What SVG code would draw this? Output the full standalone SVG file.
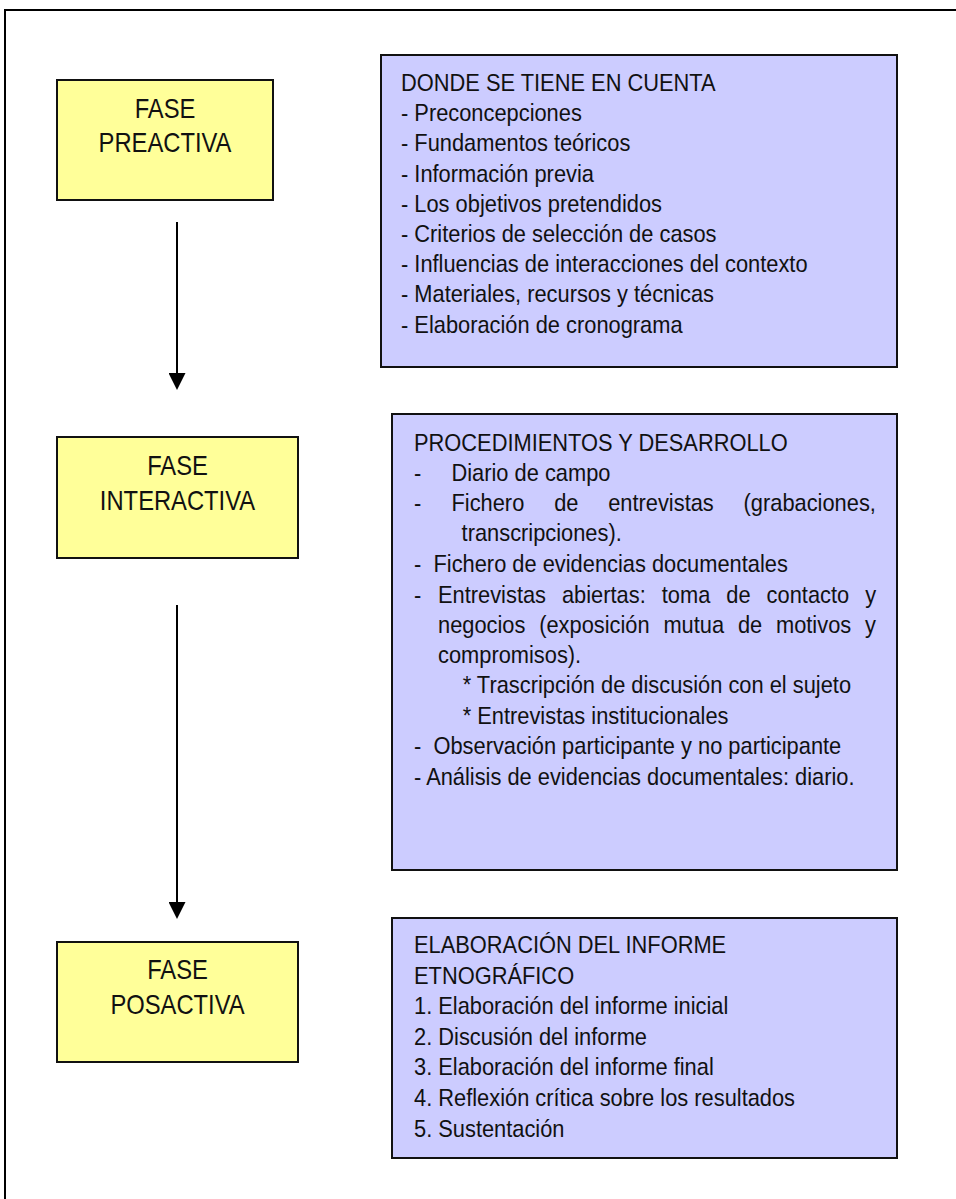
<svg xmlns="http://www.w3.org/2000/svg" width="956" height="1199" viewBox="0 0 956 1199">
<style>
.frame{fill:none;stroke:#000;stroke-width:2}
.ybox{fill:#FFFF99;stroke:#111;stroke-width:2}
.bbox{fill:#CCCCFF;stroke:#111;stroke-width:2}
.yt{font-family:"Liberation Sans",Arial,sans-serif;font-size:27px;fill:#111;text-anchor:middle}
.bt{font-family:"Liberation Sans",Arial,sans-serif;font-size:24px;fill:#111}
.conn{stroke:#000;stroke-width:2;fill:none}
</style>
<defs>
<marker id="ah" markerUnits="userSpaceOnUse" markerWidth="17" markerHeight="17" refX="0" refY="8" orient="auto" viewBox="0 0 16 16">
<path d="M0,0 L16,8 L0,16 Z" fill="#000"/>
</marker>
</defs>
<rect width="956" height="1199" fill="#fff"/>
<path class="frame" d="M5,1199 V10 H956"/>

<g id="connectors">
<line class="conn" x1="177" y1="222" x2="177" y2="373" marker-end="url(#ah)"/>
<line class="conn" x1="177" y1="605" x2="177" y2="902" marker-end="url(#ah)"/>
</g>

<g id="fase-preactiva">
<rect class="ybox" x="57" y="80" width="216" height="120"/>
<text class="yt" transform="translate(165 118.3) scale(0.88 1)">FASE</text>
<text class="yt" transform="translate(165 151.7) scale(0.88 1)">PREACTIVA</text>
</g>

<g id="fase-interactiva">
<rect class="ybox" x="57" y="437" width="241" height="121"/>
<text class="yt" transform="translate(177.5 475) scale(0.88 1)">FASE</text>
<text class="yt" transform="translate(177.5 510) scale(0.88 1)">INTERACTIVA</text>
</g>

<g id="fase-posactiva">
<rect class="ybox" x="57" y="942" width="241" height="120"/>
<text class="yt" transform="translate(177.5 979) scale(0.88 1)">FASE</text>
<text class="yt" transform="translate(177.5 1014) scale(0.88 1)">POSACTIVA</text>
</g>

<g id="donde-se-tiene">
<rect class="bbox" x="381" y="55" width="516" height="312"/>
<text class="bt" transform="translate(401 90.7) scale(0.91 1)">DONDE SE TIENE EN CUENTA</text>
<text class="bt" transform="translate(401 121) scale(0.91 1)">- Preconcepciones</text>
<text class="bt" transform="translate(401 151) scale(0.91 1)">- Fundamentos teóricos</text>
<text class="bt" transform="translate(401 181.7) scale(0.91 1)">- Información previa</text>
<text class="bt" transform="translate(401 211.7) scale(0.91 1)">- Los objetivos pretendidos</text>
<text class="bt" transform="translate(401 241.7) scale(0.91 1)">- Criterios de selección de casos</text>
<text class="bt" transform="translate(401 272.3) scale(0.91 1)">- Influencias de interacciones del contexto</text>
<text class="bt" transform="translate(401 302.3) scale(0.91 1)">- Materiales, recursos y técnicas</text>
<text class="bt" transform="translate(401 332.5) scale(0.91 1)">- Elaboración de cronograma</text>
</g>

<g id="procedimientos">
<rect class="bbox" x="392" y="414" width="505" height="456"/>
<text class="bt" transform="translate(414 450.7) scale(0.91 1)">PROCEDIMIENTOS Y DESARROLLO</text>
<text class="bt" transform="translate(414 481) scale(0.91 1)"><tspan x="0">-</tspan><tspan x="41.2">Diario de campo</tspan></text>
<text class="bt" transform="translate(414 511) scale(0.91 1)"><tspan x="0">-</tspan><tspan x="41.2">Fichero</tspan><tspan x="154">de</tspan><tspan x="213.4">entrevistas</tspan><tspan x="362.2">(grabaciones,</tspan></text>
<text class="bt" transform="translate(461.6 541) scale(0.91 1)">transcripciones).</text>
<text class="bt" transform="translate(414 571.7) scale(0.91 1)"><tspan x="0">-</tspan><tspan x="21.4">Fichero de evidencias documentales</tspan></text>
<text class="bt" transform="translate(414 602.7) scale(0.91 1)"><tspan x="0">-</tspan><tspan x="26.4">Entrevistas</tspan><tspan x="162.6">abiertas:</tspan><tspan x="272.3">toma</tspan><tspan x="343.2">de</tspan><tspan x="387.5">contacto</tspan><tspan x="495.8">y</tspan></text>
<text class="bt" transform="translate(438 632.7) scale(0.91 1)"><tspan x="0">negocios</tspan><tspan x="111.2">(exposición</tspan><tspan x="247.7">mutua</tspan><tspan x="329.6">de</tspan><tspan x="371.4">motivos</tspan><tspan x="469.2">y</tspan></text>
<text class="bt" transform="translate(438 662.7) scale(0.91 1)">compromisos).</text>
<text class="bt" transform="translate(462.7 693.3) scale(0.91 1)">* Trascripción de discusión con el sujeto</text>
<text class="bt" transform="translate(462.7 724) scale(0.91 1)">* Entrevistas institucionales</text>
<text class="bt" transform="translate(414 754.3) scale(0.91 1)"><tspan x="0">-</tspan><tspan x="21.4">Observación participante y no participante</tspan></text>
<text class="bt" transform="translate(414 785) scale(0.91 1)">- Análisis de evidencias documentales: diario.</text>
</g>

<g id="elaboracion-informe">
<rect class="bbox" x="392" y="918" width="505" height="240"/>
<text class="bt" transform="translate(414 953.3) scale(0.91 1)">ELABORACIÓN DEL INFORME</text>
<text class="bt" transform="translate(414 984) scale(0.91 1)">ETNOGRÁFICO</text>
<text class="bt" transform="translate(414 1014) scale(0.91 1)">1. Elaboración del informe inicial</text>
<text class="bt" transform="translate(414 1044.7) scale(0.91 1)">2. Discusión del informe</text>
<text class="bt" transform="translate(414 1074.7) scale(0.91 1)">3. Elaboración del informe final</text>
<text class="bt" transform="translate(414 1106) scale(0.91 1)">4. Reflexión crítica sobre los resultados</text>
<text class="bt" transform="translate(414 1136.5) scale(0.91 1)">5. Sustentación</text>
</g>
</svg>
